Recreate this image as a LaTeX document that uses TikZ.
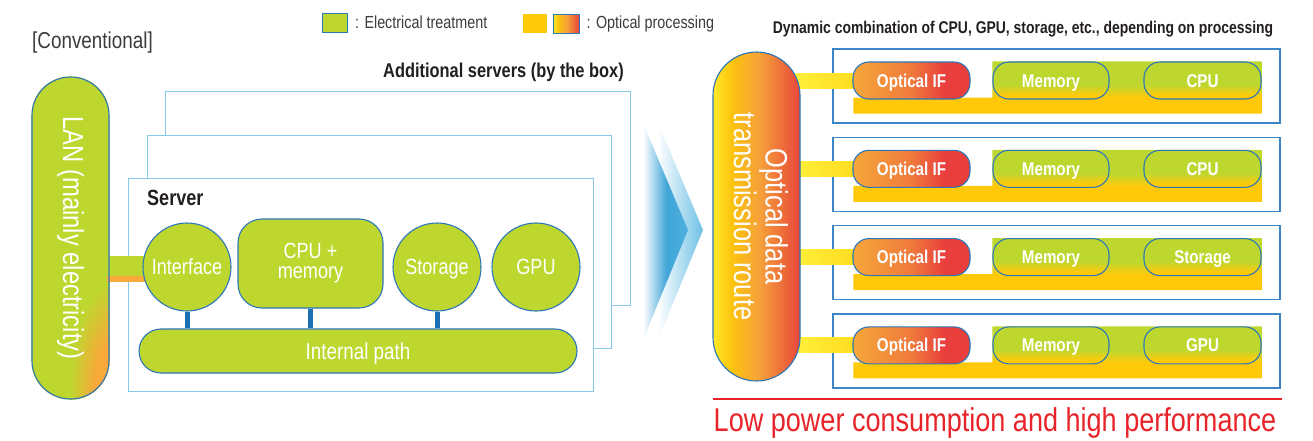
\documentclass[tikz,border=0pt]{standalone}
\usepackage{fontspec}
\usepackage{graphicx}
\setmainfont{Liberation Sans}[FakeStretch=0.82]
\usetikzlibrary{positioning,calc,backgrounds,fadings}
\definecolor{ink}{HTML}{231F20}
\definecolor{grayink}{HTML}{3C3C3C}
\definecolor{lime}{HTML}{BED72F}
\definecolor{lanor}{HTML}{F9A83A}
\definecolor{bluebd}{HTML}{2B77B9}
\definecolor{busblue}{HTML}{1B70B5}
\definecolor{skybd}{HTML}{86C9EA}
\definecolor{rowbd}{HTML}{3C86C6}
\definecolor{barL}{HTML}{FFF03A}
\definecolor{barY}{HTML}{FFC90A}
\definecolor{routeA}{HTML}{FFE928}
\definecolor{routeB}{HTML}{FCC30F}
\definecolor{routeC}{HTML}{F5A03A}
\definecolor{routeD}{HTML}{E8453A}
\definecolor{ifL}{HTML}{F6A63A}
\definecolor{ifM}{HTML}{F07A3C}
\definecolor{ifR}{HTML}{E83F3C}
\definecolor{chevA}{HTML}{3AA2D6}
\definecolor{chevB}{HTML}{5DB9E3}
\definecolor{alert}{HTML}{E8232A}

\pgfdeclarehorizontalshading{routeshade}{100bp}{color(0bp)=(routeA); color(25bp)=(routeA);
  color(36bp)=(routeB); color(52bp)=(routeC); color(75bp)=(routeD); color(100bp)=(routeD)}
\pgfdeclarehorizontalshading{ifshade}{100bp}{color(0bp)=(ifL); color(25bp)=(ifL);
  color(50bp)=(ifM); color(64bp)=(ifR); color(100bp)=(ifR)}
\pgfdeclareverticalshading{modshade}{100bp}{color(0bp)=(barY); color(30bp)=(barY);
  color(44bp)=(lime); color(100bp)=(lime)}
\pgfdeclareverticalshading{bandshade}{100bp}{color(0bp)=(barY); color(40bp)=(barY);
  color(52bp)=(lime); color(100bp)=(lime)}
\pgfdeclarehorizontalshading{chevshade}{100bp}{color(0bp)=(white); color(25bp)=(white);
  color(52bp)=(chevA); color(100bp)=(chevA)}
\pgfdeclareradialshading{langlow}{\pgfpoint{0bp}{0bp}}{color(0bp)=(lanor); color(11bp)=(lanor);
  color(25bp)=(lime); color(50bp)=(lime)}

\newcommand\fsz[1]{\fontsize{#1}{#1}\selectfont}

\begin{document}
\begin{tikzpicture}[
  x=1pt,y=-1pt,
  font=\fsz{17},
  swatch/.style={minimum width=25pt,minimum height=19pt,inner sep=0pt},
  legtxt/.style={font=\fsz{17.5},text=grayink,inner sep=0pt},
  heading/.style={font=\bfseries\fsz{20},text=ink,inner sep=0pt},
  srvbox/.style={draw=skybd,line width=1.3pt,fill=white,anchor=north west,inner sep=0pt},
  unit/.style={draw=bluebd,line width=1.1pt,fill=lime,text=white,inner sep=0pt,font=\fsz{22}},
  ring/.style={unit,circle,minimum size=88pt,text height=15.5pt,text depth=0pt},
  bus/.style={draw=busblue,line width=5pt},
  pill/.style={draw=bluebd,line width=1.1pt,rounded corners=16pt,minimum width=117pt,
               minimum height=37pt,text=white,inner sep=0pt,font=\bfseries\fsz{18.5},
               text height=13pt,text depth=0pt},
  rowbox/.style={draw=rowbd,line width=1.4pt,minimum width=447pt,minimum height=74pt,inner sep=0pt},
]
\useasboundingbox (0,0) rectangle (1313,440);

%================================================================ LEGEND ===
\node[swatch,fill=lime,draw=bluebd,line width=1pt] (legE) at (335,22.5) {};
\node[legtxt,anchor=west,right=7pt of legE] (legEt) {: Electrical treatment};
\node[swatch,fill=barY,minimum width=24pt] (legY) at (535,23.5) {};
\node[swatch,shade,shading=routeshade,draw=bluebd,line width=1pt,minimum width=26pt] (legG) at (566,23.5) {};
\node[legtxt,anchor=west,right=7pt of legG] (legGt) {: Optical processing};

%=========================================================== CONVENTIONAL ===
\node[font=\fsz{23},text=grayink,inner sep=0pt,anchor=west] (conv) at (32,43) {[Conventional]};
\node[heading] (addl) at (503.5,72) {Additional servers (by the box)};

\node[unit,fill=none,minimum width=77pt,minimum height=322pt,rounded corners=38.5pt,font=\fsz{29}]
  (lan) at (70.5,238) {\rotatebox{-90}{LAN (mainly electricity)}};

\node[heading,font=\bfseries\fsz{22},anchor=west] (srvlbl) at (147,198) {Server};

\node[ring] (iface) at (187,267) {Interface};
\node[unit,minimum width=145pt,minimum height=89pt,rounded corners=24pt,align=center]
  (cpumem) at (310.5,263.5) {CPU +\\[-2pt]memory};
\node[ring] (stor) at (437,267) {Storage};
\node[ring] (gpu)  at (536,267) {GPU};
\node[unit,minimum width=438pt,minimum height=44pt,rounded corners=22pt,font=\fsz{23},
      text height=16.5pt,text depth=0pt]
  (ipath) at (358,351) {Internal path};

\begin{scope}[on background layer]
  % LAN body with its orange corner
  \begin{scope}
    \clip[rounded corners=38.5pt] (lan.south west) rectangle (lan.north east);
    \fill[lime] (lan.south west) rectangle (lan.north east);
    \shade[shading=langlow] (114,392) ellipse [x radius=44,y radius=110];
  \end{scope}
  % stacked servers
  \node[srvbox,minimum width=465pt,minimum height=214pt] (box3) at (165,91)  {};
  \node[srvbox,minimum width=464pt,minimum height=213pt] (box2) at (147,135) {};
  \node[srvbox,minimum width=465pt,minimum height=213pt] (box1) at (128,178) {};
  % LAN link
  \fill[lime]  ($(lan.east |- iface.center)+(-3,-11)$) rectangle ($(iface.center)+(0,9)$);
  \fill[lanor] ($(lan.east |- iface.center)+(-3,9)$)   rectangle ($(iface.center)+(0,15)$);
  % buses to the internal path
  \foreach \u in {iface,cpumem,stor}
    \draw[bus] (\u.south) -- (\u.south |- ipath.north);
\end{scope}

%================================================================ ARROWS ===
\shade[shading=chevshade] (643,123) -- (688,230) -- (643,340) -- cycle;
\fill[chevB,path fading=west,fill opacity=0.9] (658,123) -- (703,230) -- (658,340) -- cycle;

%=============================================================== OPTICAL ===
\node[heading,font=\bfseries\fsz{17}] (dyn) at (1023,29)
  {Dynamic combination of CPU, GPU, storage, etc., depending on processing};

\node[unit,shade,shading=routeshade,minimum width=87pt,minimum height=329pt,
      rounded corners=43.5pt,font=\fsz{31}]
  (route) at (756.5,216.5)
  {\rotatebox{-90}{\fontsize{31}{30}\selectfont\begin{tabular}{@{}c@{}}Optical data\\transmission route\end{tabular}}};

\foreach \lab [count=\i from 0] in {CPU,CPU,Storage,GPU}{
  \pgfmathsetmacro\ry{80.5+88.3*\i}
  \node[pill,shade,shading=ifshade]  (oif\i) at (911.5,\ry)  {Optical IF};
  \node[pill,shade,shading=modshade,minimum width=116pt] (mem\i) at (1051,\ry) {Memory};
  \node[pill,shade,shading=modshade] (mod\i) at (1202.5,\ry) {\lab};
  \begin{scope}[on background layer]
    \node[rowbox] (row\i) at (1056.5,\ry+5.5) {};
    \shade[shading=bandshade] ($(oif\i.south west)+(1,-2)$) -- ($(mem\i.south west)+(0,-2)$)
      -- (mem\i.north west) -- (mod\i.north east) -- ($(mod\i.south east)+(0,14)$)
      -- ($(oif\i.south west)+(1,14)$) -- cycle;
    \shade[left color=barL,right color=barY] ($(route.east |- oif\i.center)+(-5,-7.5)$)
      rectangle ($(oif\i.center)+(0,7.5)$);
  \end{scope}
}

%================================================================ RESULT ===
\coordinate (ruleL) at (713,399);
\coordinate (ruleR) at (1282,399);
\draw[alert,line width=2.5pt] (ruleL) -- (ruleR);
\node[font=\fsz{33},text=alert,inner sep=0pt] (gain) at (995,423)
  {Low power consumption and high performance};

\end{tikzpicture}
\end{document}
